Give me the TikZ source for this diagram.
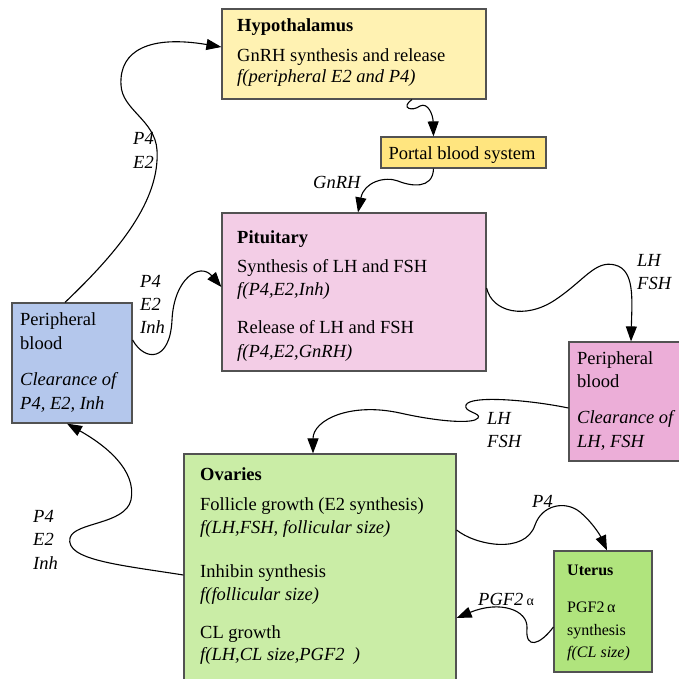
\documentclass[tikz,border=0pt]{standalone}
\usepackage{fontspec}
\setmainfont{Liberation Serif}
\usetikzlibrary{arrows.meta}

\definecolor{hypofill}{HTML}{FFF2B2}
\definecolor{portalfill}{HTML}{FFE57F}
\definecolor{pitfill}{HTML}{F3CDE6}
\definecolor{bloodfill}{HTML}{B4C7EC}
\definecolor{clearfill}{HTML}{ECAED8}
\definecolor{ovafill}{HTML}{CAEDA6}
\definecolor{utefill}{HTML}{B0E47D}

\newcommand\bodyfont{\fontsize{18.5}{20}\selectfont}
\newcommand\utefont{\fontsize{16}{18}\selectfont}

\tikzset{
  organ/.style={draw=black!68, line width=1.2pt, inner sep=0pt},
  line/.style={inner sep=0pt, anchor=base west, font=\bodyfont},
  uline/.style={inner sep=0pt, anchor=base west, font=\utefont},
  lbl/.style={inner sep=0pt, anchor=base west, font=\bodyfont\itshape},
  flow/.style={line width=1.1pt, -{Triangle[length=15pt,width=11pt]}},
}

\begin{document}
\begin{tikzpicture}[x=1pt, y=-1pt]
      \useasboundingbox (0,0) rectangle (679,679);
      \fill[white] (0,0) rectangle (679,679);

      % 1. the boxes
      \node[organ, fill=hypofill, minimum width=264, minimum height=90] (hypo) at (354,54) {};
      \node[organ, fill=portalfill, minimum width=165, minimum height=31] (portal) at (463.5,152.5) {};
      \node[organ, fill=pitfill, minimum width=264, minimum height=158] (pit) at (354,292) {};
      \node[organ, fill=bloodfill, minimum width=120, minimum height=120] (blood) at (72,363) {};
      \node[organ, fill=clearfill, minimum width=114, minimum height=119] (clear) at (626,401.5) {};
      \node[organ, fill=ovafill, minimum width=272, minimum height=231] (ova) at (320,569.5) {};
      \node[organ, fill=utefill, minimum width=98, minimum height=121] (ute) at (603,611.5) {};

      % 2. texts in the boxes
      \foreach \yy/\txt [count=\i] in {32/{\bfseries Hypothalamus}, 62/{GnRH synthesis and release},
          83/{\itshape f(peripheral E2 and P4)}}
        \node[line] (hypo-\i) at (237,\yy) {\txt};
      \node[line, anchor=base] (portal-1) at (462,160) {Portal blood system};
      \foreach \yy/\txt [count=\i] in {243/{\bfseries Pituitary}, 272/{Synthesis of LH and FSH},
          295/{\itshape f(P4,E2,Inh)}, 333/{Release of LH and FSH}, 357/{\itshape f(P4,E2,GnRH)}}
        \node[line] (pit-\i) at (237,\yy) {\txt};
      \foreach \yy/\txt [count=\i] in {325/{Peripheral}, 349/{blood}, 385/{\itshape Clearance of},
          409/{\itshape P4, E2, Inh}}
        \node[line] (blood-\i) at (20,\yy) {\txt};
      \foreach \yy/\txt [count=\i] in {364/{Peripheral}, 387/{blood}, 423/{\itshape Clearance of},
          447/{\itshape LH, FSH}}
        \node[line] (clear-\i) at (577,\yy) {\txt};
      \foreach \yy/\txt [count=\i] in {480/{\bfseries Ovaries}, 510/{Follicle growth (E2 synthesis)},
          533/{\itshape f(LH,FSH, follicular size)}, 577/{Inhibin synthesis},
          600/{\itshape f(follicular size)}, 638/{CL growth}, 660/{\itshape f(LH,CL size,PGF2\ \ )}}
        \node[line] (ova-\i) at (200,\yy) {\txt};
      \foreach \yy/\txt [count=\i] in {575/{\bfseries Uterus}, 612/{PGF2\,α}, 635/{synthesis},
          657/{\itshape f(CL size)}}
        \node[uline] (ute-\i) at (567,\yy) {\txt};

      % 3. hormone flows
      \draw[flow] ([xshift=-7pt]blood.north) .. controls (120,250) and (160,200) .. (157,150)
          .. controls (155,120) and (122,110) .. (121,85) .. controls (119,50) and (150,35) .. ([yshift=7pt]hypo.west);
      \draw[flow] ([xshift=58pt]hypo.south) .. controls (400,108) and (412,112) .. (420,106)
          .. controls (428,102) and (433,115) .. ([xshift=-30pt]portal.north);
      \draw[flow] ([xshift=-30pt]portal.south) .. controls (433,190) and (410,186) .. (398,181)
          .. controls (385,176) and (364,182) .. ([xshift=4pt]pit.north);
      \draw[flow] ([yshift=23pt]blood.east) .. controls (145,362) and (170,362) .. (172,320)
          .. controls (174,278) and (200,262) .. ([yshift=5pt]pit.west);
      \draw[flow] ([yshift=4pt]pit.east) .. controls (492,312) and (525,320) .. (555,300)
          .. controls (585,280) and (595,260) .. (615,265) .. controls (635,270) and (632,300) .. ([xshift=5pt]clear.north);
      \draw[flow] ([yshift=-6.5pt]clear.west) .. controls (530,400) and (470,395) .. (466,405)
          .. controls (463,412) and (482,413) .. (478,418) .. controls (474,424) and (440,422) .. (400,413)
          .. controls (350,402) and (313,420) .. ([xshift=-7pt]ova.north);
      \draw[flow] ([yshift=-5.5pt]ova.west) .. controls (120,565) and (65,560) .. (70,538)
          .. controls (74,522) and (125,525) .. (131,500) .. controls (137,470) and (105,445) .. ([xshift=-5pt]blood.south);
      \draw[flow] ([yshift=39.5pt]ova.east) .. controls (475,545) and (525,555) .. (535,525)
          .. controls (542,505) and (565,500) .. (580,512) .. controls (592,522) and (600,535) .. ([xshift=4pt]ute.north);
      \draw[flow] ([yshift=-15.5pt]ute.west) .. controls (540,645) and (525,650) .. (527,628)
          .. controls (528,610) and (500,600) .. ([yshift=-48.5pt]ova.east);

      % 4. flow labels
      \node[lbl] (l-p4a) at (133,145) {P4};
      \node[lbl] (l-e2a) at (133,168) {E2};
      \node[lbl] (l-p4b) at (140,287) {P4};
      \node[lbl] (l-e2b) at (140,310) {E2};
      \node[lbl] (l-inhb) at (140,333) {Inh};
      \node[lbl] (l-gnrh) at (313,188) {GnRH};
      \node[lbl] (l-lha) at (637,266) {LH};
      \node[lbl] (l-fsha) at (637,289) {FSH};
      \node[lbl] (l-lhb) at (487,424) {LH};
      \node[lbl] (l-fshb) at (487,447) {FSH};
      \node[lbl] (l-p4c) at (33,522) {P4};
      \node[lbl] (l-e2c) at (33,545) {E2};
      \node[lbl] (l-inhc) at (33,569) {Inh};
      \node[lbl] (l-p4d) at (532,507) {P4};
      \node[lbl] (l-pgf) at (478,605) {PGF2\,{\upshape\fontsize{14}{14}\selectfont α}};
    \end{tikzpicture}
\end{document}
